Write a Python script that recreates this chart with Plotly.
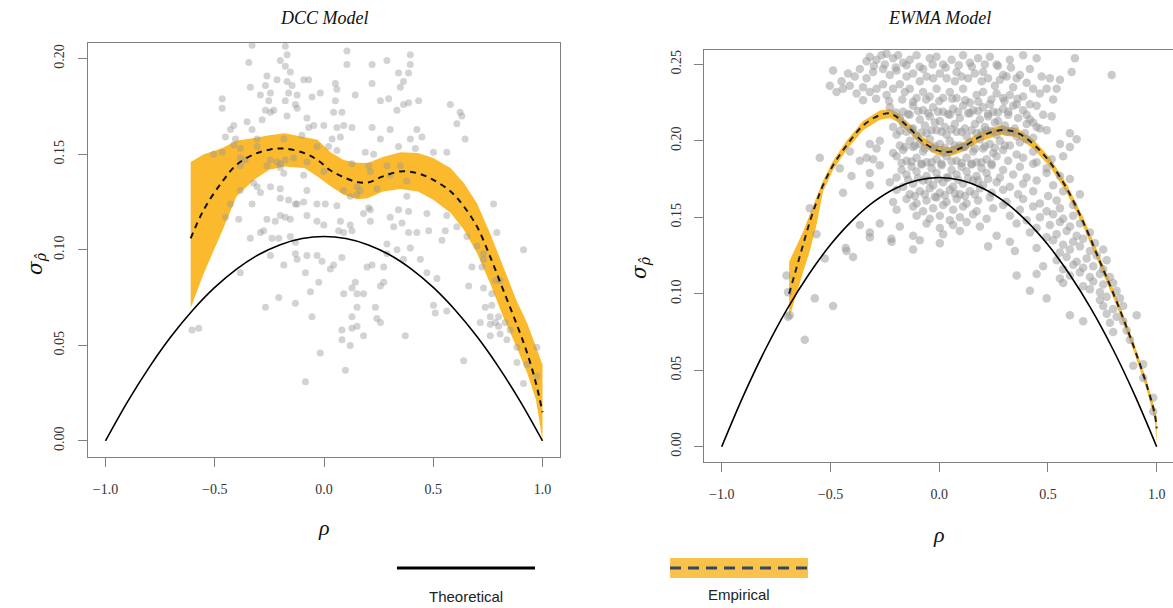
import plotly.graph_objects as go

W, H = 1173, 608

# ---------------- DATA ----------------
# DCC model: scatter (rho, sigma)
dcc_points = [
    (-0.329, 0.207), (-0.177, 0.2065), (-0.169, 0.202), (0.105, 0.204), (0.395, 0.202), (-0.344, 0.198),
    (-0.200, 0.199), (-0.177, 0.196), (0.105, 0.197), (0.220, 0.197), (0.288, 0.199), (0.395, 0.197),
    (-0.154, 0.193), (-0.261, 0.191), (-0.215, 0.189), (-0.093, 0.189), (-0.070, 0.189), (0.341, 0.1925),
    (0.387, 0.1925), (0.364, 0.188), (-0.337, 0.185), (-0.268, 0.186), (-0.169, 0.188), (-0.146, 0.186),
    (0.052, 0.187), (0.059, 0.184), (0.220, 0.187), (0.349, 0.185), (-0.291, 0.181), (-0.245, 0.182),
    (-0.162, 0.182), (-0.123, 0.181), (-0.055, 0.180), (-0.017, 0.182), (0.143, 0.181), (-0.466, 0.179),
    (-0.466, 0.174), (-0.253, 0.178), (-0.177, 0.178), (-0.131, 0.176), (-0.123, 0.174), (-0.268, 0.173),
    (-0.245, 0.172), (-0.230, 0.173), (0.044, 0.172), (0.082, 0.172), (0.052, 0.178), (0.258, 0.178),
    (0.296, 0.179), (0.334, 0.173), (0.364, 0.176), (0.387, 0.177), (0.433, 0.178), (0.578, 0.176),
    (0.623, 0.172), (0.631, 0.170), (-0.352, 0.167), (-0.283, 0.168), (-0.413, 0.165), (-0.428, 0.163),
    (-0.329, 0.163), (-0.169, 0.170), (-0.078, 0.169), (-0.070, 0.164), (-0.047, 0.165), (-0.001, 0.165),
    (0.059, 0.164), (0.090, 0.165), (0.128, 0.164), (0.220, 0.164), (0.303, 0.163), (0.425, 0.163),
    (0.608, 0.166), (-0.451, 0.159), (-0.405, 0.158), (-0.306, 0.158), (-0.184, 0.158), (-0.101, 0.160),
    (0.037, 0.158), (0.075, 0.159), (0.258, 0.158), (0.395, 0.158), (0.448, 0.159), (0.646, 0.158),
    (-0.413, 0.155), (-0.383, 0.153), (-0.306, 0.154), (-0.032, 0.154), (0.021, 0.154), (0.059, 0.152),
    (0.189, 0.151), (0.227, 0.150), (0.341, 0.154), (0.418, 0.153), (0.501, 0.151), (0.562, 0.151),
    (-0.505, 0.150), (-0.466, 0.151), (-0.383, 0.148), (-0.360, 0.147), (-0.245, 0.147), (-0.215, 0.146),
    (-0.200, 0.145), (-0.177, 0.147), (-0.139, 0.148), (-0.078, 0.146), (0.128, 0.145), (0.204, 0.144),
    (0.288, 0.144), (0.349, 0.144), (-0.383, 0.144), (-0.261, 0.144), (-0.200, 0.143), (-0.184, 0.140),
    (-0.093, 0.139), (-0.001, 0.141), (0.212, 0.141), (0.303, 0.139), (0.379, 0.136), (-0.322, 0.135),
    (-0.306, 0.133), (-0.245, 0.133), (-0.200, 0.132), (0.151, 0.133), (0.166, 0.131), (0.242, 0.132),
    (0.379, 0.128), (-0.383, 0.131), (-0.291, 0.130), (-0.200, 0.127), (-0.162, 0.126), (-0.123, 0.124),
    (-0.093, 0.125), (-0.078, 0.131), (-0.032, 0.124), (0.006, 0.124), (0.090, 0.131), (0.120, 0.128),
    (0.151, 0.129), (-0.428, 0.124), (-0.329, 0.124), (-0.131, 0.124), (0.059, 0.123), (0.204, 0.122),
    (0.212, 0.121), (0.341, 0.121), (0.387, 0.120), (0.471, 0.119), (0.562, 0.118), (0.776, 0.124),
    (-0.451, 0.117), (-0.390, 0.116), (-0.261, 0.116), (-0.223, 0.115), (-0.200, 0.118), (-0.177, 0.117),
    (-0.154, 0.116), (-0.078, 0.118), (-0.032, 0.115), (-0.001, 0.113), (0.075, 0.115), (0.120, 0.113),
    (0.181, 0.119), (0.212, 0.115), (0.303, 0.117), (0.319, 0.112), (0.357, 0.114), (0.387, 0.109),
    (0.425, 0.109), (0.479, 0.110), (0.555, 0.110), (0.608, 0.112), (-0.337, 0.106), (-0.291, 0.109),
    (-0.276, 0.110), (-0.238, 0.106), (-0.207, 0.106), (-0.154, 0.107), (-0.131, 0.104), (0.067, 0.110),
    (0.090, 0.109), (0.128, 0.110), (0.288, 0.103), (0.334, 0.100), (0.395, 0.101), (0.540, 0.105),
    (0.654, 0.107), (0.791, 0.109), (0.700, 0.102), (0.730, 0.098), (0.913, 0.100), (-0.383, 0.088),
    (-0.245, 0.097), (-0.184, 0.092), (-0.131, 0.098), (-0.123, 0.095), (-0.078, 0.097), (-0.032, 0.097),
    (-0.009, 0.094), (0.029, 0.090), (0.044, 0.092), (0.082, 0.096), (0.197, 0.091), (0.220, 0.092),
    (0.273, 0.091), (0.288, 0.098), (0.364, 0.095), (0.441, 0.095), (0.471, 0.088), (0.517, 0.085),
    (0.677, 0.091), (0.723, 0.091), (0.730, 0.095), (0.784, 0.084), (-0.085, 0.088), (-0.024, 0.083),
    (-0.062, 0.078), (0.090, 0.077), (0.143, 0.083), (0.128, 0.080), (0.151, 0.077), (0.181, 0.077),
    (0.258, 0.081), (0.273, 0.083), (0.662, 0.081), (0.730, 0.080), (0.768, 0.077), (0.806, 0.084),
    (-0.207, 0.075), (-0.131, 0.072), (-0.268, 0.070), (-0.055, 0.065), (0.128, 0.065), (0.151, 0.070),
    (0.235, 0.070), (0.242, 0.064), (0.258, 0.062), (0.501, 0.071), (0.509, 0.067), (0.562, 0.068),
    (0.738, 0.070), (0.768, 0.071), (0.761, 0.065), (0.799, 0.065), (0.784, 0.062), (0.715, 0.062),
    (0.761, 0.061), (0.829, 0.062), (0.799, 0.060), (0.852, 0.058), (0.082, 0.058), (0.128, 0.059),
    (0.151, 0.060), (0.181, 0.055), (0.082, 0.053), (0.120, 0.050), (0.372, 0.055), (0.761, 0.055),
    (0.806, 0.056), (0.837, 0.053), (0.883, 0.049), (0.974, 0.049), (-0.604, 0.058), (-0.573, 0.059),
    (-0.017, 0.046), (0.639, 0.042), (0.883, 0.041), (0.928, 0.040), (0.098, 0.037), (-0.085, 0.031),
    (0.913, 0.030), (0.974, 0.034),
]

# DCC empirical smoother and its band
dcc_fit_rho = [-0.61, -0.55, -0.47, -0.40, -0.32, -0.25, -0.18, -0.09, -0.03, 0.03, 0.09, 0.15, 0.20,
               0.27, 0.35, 0.43, 0.50, 0.58, 0.64, 0.70, 0.76, 0.82, 0.88, 0.93, 0.97, 1.00]
dcc_fit_mid = [0.106, 0.121, 0.135, 0.1445, 0.150, 0.1524, 0.153, 0.1506, 0.147, 0.1415, 0.138, 0.1355,
               0.1352, 0.1384, 0.141, 0.140, 0.1366, 0.1305, 0.1227, 0.1122, 0.0965, 0.079, 0.0616,
               0.0459, 0.0302, 0.015]
dcc_fit_upper = [0.146, 0.150, 0.153, 0.157, 0.1585, 0.160, 0.161, 0.159, 0.1576, 0.151, 0.147, 0.1455,
                 0.1454, 0.1485, 0.151, 0.1506, 0.148, 0.1427, 0.135, 0.1244, 0.1087, 0.0913, 0.0738,
                 0.0616, 0.0494, 0.040]
dcc_fit_lower = [0.0695, 0.0878, 0.1087, 0.128, 0.1366, 0.1419, 0.1436, 0.1428, 0.1384, 0.1332, 0.1288,
                 0.1265, 0.127, 0.1305, 0.1318, 0.1305, 0.1262, 0.1192, 0.1105, 0.0983, 0.0825, 0.065,
                 0.0494, 0.0354, 0.0215, 0.000]

# Theoretical curves (read at rho = -1.0 ... 1.0 step 0.1)
theo_rho = [-1.0, -0.9, -0.8, -0.7, -0.6, -0.5, -0.4, -0.3, -0.2, -0.1, 0.0,
            0.1, 0.2, 0.3, 0.4, 0.5, 0.6, 0.7, 0.8, 0.9, 1.0]
dcc_theo = [0.0, 0.0203, 0.0385, 0.0546, 0.0685, 0.0803, 0.0899, 0.0974, 0.1027, 0.1059, 0.107,
            0.1059, 0.1027, 0.0974, 0.0899, 0.0803, 0.0685, 0.0546, 0.0385, 0.0203, 0.0]
ewma_theo = [0.0, 0.0334, 0.0634, 0.0898, 0.1126, 0.132, 0.1478, 0.1602, 0.169, 0.1742, 0.176,
             0.1742, 0.169, 0.1602, 0.1478, 0.132, 0.1126, 0.0898, 0.0634, 0.0334, 0.0]

# EWMA model: scatter (rho, sigma)
ewma_points = [
    (-0.488, 0.246), (-0.449, 0.239), (-0.419, 0.244), (-0.388, 0.242), (-0.365, 0.247), (-0.334, 0.252),
    (-0.319, 0.255), (-0.288, 0.253), (-0.265, 0.256), (-0.242, 0.257), (-0.212, 0.254), (-0.189, 0.256),
    (-0.166, 0.251), (-0.135, 0.253), (-0.104, 0.256), (-0.074, 0.247), (-0.043, 0.254), (-0.012, 0.255),
    (0.018, 0.250), (0.057, 0.253), (0.080, 0.245), (0.110, 0.256), (0.141, 0.251), (0.179, 0.254),
    (0.202, 0.245), (0.233, 0.255), (0.264, 0.250), (0.294, 0.243), (0.325, 0.253), (0.356, 0.241),
    (0.386, 0.256), (0.417, 0.247), (0.448, 0.254), (0.471, 0.242), (0.509, 0.241), (0.555, 0.240),
    (0.609, 0.245), (0.624, 0.254), (0.793, 0.243), (-0.334, 0.241), (-0.304, 0.245), (-0.258, 0.247),
    (-0.227, 0.243), (-0.196, 0.246), (-0.150, 0.242), (-0.120, 0.244), (-0.089, 0.239), (-0.058, 0.242),
    (-0.028, 0.241), (0.003, 0.244), (0.034, 0.241), (0.072, 0.239), (0.103, 0.242), (0.133, 0.241),
    (0.164, 0.244), (0.195, 0.239), (0.225, 0.241), (0.256, 0.236), (0.279, 0.240), (0.310, 0.242),
    (0.340, 0.235), (0.371, 0.243), (0.402, 0.238), (0.432, 0.234), (0.463, 0.231), (0.494, 0.234),
    (0.524, 0.227), (0.540, 0.234), (-0.503, 0.236), (-0.472, 0.232), (-0.442, 0.234), (-0.411, 0.236),
    (-0.380, 0.231), (-0.350, 0.235), (-0.319, 0.232), (-0.288, 0.234), (-0.258, 0.237), (-0.242, 0.230),
    (-0.212, 0.234), (-0.181, 0.237), (-0.158, 0.232), (-0.135, 0.234), (-0.104, 0.228), (-0.074, 0.232),
    (-0.043, 0.229), (-0.012, 0.234), (0.018, 0.228), (0.049, 0.232), (0.080, 0.228), (0.110, 0.234),
    (0.141, 0.225), (0.172, 0.230), (0.202, 0.232), (0.233, 0.224), (0.264, 0.231), (0.294, 0.228),
    (0.325, 0.230), (0.356, 0.224), (0.386, 0.229), (0.417, 0.224), (0.448, 0.223), (0.478, 0.217),
    (0.517, 0.216), (0.402, 0.217), (0.432, 0.212), (0.463, 0.208),
    (-0.227, 0.222), (-0.166, 0.219), (-0.120, 0.223), (-0.074, 0.220), (-0.028, 0.222), (0.018, 0.219),
    (0.064, 0.221), (0.110, 0.223), (0.156, 0.220), (0.202, 0.222), (0.248, 0.219), (0.294, 0.221),
    (0.340, 0.223), (0.386, 0.220),
    (-0.181, 0.215), (-0.135, 0.217), (-0.089, 0.214), (-0.043, 0.216), (0.003, 0.213), (0.049, 0.217),
    (0.095, 0.215), (0.141, 0.218), (0.187, 0.214), (0.225, 0.216), (0.271, 0.213), (0.317, 0.217),
    (0.363, 0.215), (0.417, 0.214),
    (-0.212, 0.209), (-0.166, 0.211), (-0.120, 0.208), (-0.066, 0.210), (-0.020, 0.212), (0.026, 0.209),
    (0.072, 0.211), (0.118, 0.208), (0.164, 0.211), (0.210, 0.209), (0.256, 0.212), (0.302, 0.210),
    (0.348, 0.208), (0.402, 0.211), (0.448, 0.209), (0.494, 0.207),
    (-0.196, 0.204), (-0.150, 0.206), (-0.104, 0.203), (-0.058, 0.205), (-0.012, 0.207), (0.034, 0.204),
    (0.080, 0.206), (0.126, 0.203), (0.172, 0.205), (0.218, 0.207), (0.264, 0.204), (0.310, 0.206),
    (0.356, 0.203), (0.394, 0.205), (0.432, 0.202), (0.601, 0.205), (0.632, 0.201),
    (-0.319, 0.198), (-0.273, 0.200), (-0.181, 0.197), (-0.135, 0.200), (-0.089, 0.198), (-0.043, 0.201),
    (0.003, 0.198), (0.049, 0.200), (0.095, 0.197), (0.141, 0.199), (0.187, 0.201), (0.233, 0.198),
    (0.279, 0.200), (0.325, 0.197), (0.371, 0.199), (0.402, 0.201), (0.555, 0.198), (0.601, 0.196),
    (-0.411, 0.193), (-0.288, 0.195), (-0.212, 0.192), (-0.166, 0.194), (-0.120, 0.196), (-0.074, 0.193),
    (-0.028, 0.195), (0.018, 0.192), (0.064, 0.194), (0.110, 0.196), (0.156, 0.193), (0.202, 0.195),
    (0.248, 0.192), (0.294, 0.194), (0.356, 0.191), (0.432, 0.193),
    (-0.549, 0.189), (-0.365, 0.187), (-0.334, 0.189), (-0.304, 0.188), (-0.196, 0.190), (-0.150, 0.187),
    (-0.104, 0.189), (-0.058, 0.186), (-0.012, 0.188), (0.034, 0.190), (0.080, 0.187), (0.126, 0.189),
    (0.172, 0.186), (0.218, 0.188), (0.264, 0.190), (0.317, 0.187), (0.386, 0.189), (0.448, 0.186),
    (0.517, 0.188), (0.570, 0.190),
    (-0.457, 0.182), (-0.273, 0.184), (-0.173, 0.181), (-0.127, 0.183), (-0.081, 0.185), (-0.035, 0.182),
    (0.011, 0.184), (0.057, 0.181), (0.103, 0.183), (0.149, 0.185), (0.195, 0.182), (0.241, 0.184),
    (0.294, 0.181), (0.371, 0.183), (0.432, 0.185), (0.494, 0.182),
    (-0.403, 0.177), (-0.319, 0.179), (-0.196, 0.176), (-0.150, 0.178), (-0.104, 0.180), (-0.058, 0.177),
    (-0.012, 0.179), (0.034, 0.176), (0.080, 0.178), (0.126, 0.180), (0.172, 0.177), (0.218, 0.179),
    (0.279, 0.176), (0.340, 0.178), (0.402, 0.176), (0.494, 0.179), (0.555, 0.177), (0.601, 0.175),
    (-0.319, 0.171), (-0.227, 0.173), (-0.166, 0.170), (-0.120, 0.172), (-0.074, 0.174), (-0.028, 0.171),
    (0.018, 0.173), (0.064, 0.170), (0.110, 0.172), (0.156, 0.174), (0.202, 0.171), (0.264, 0.173),
    (0.325, 0.170), (0.386, 0.172), (0.448, 0.174), (0.524, 0.171),
    (-0.442, 0.166), (-0.196, 0.168), (-0.135, 0.165), (-0.089, 0.167), (-0.043, 0.169), (0.003, 0.166),
    (0.049, 0.168), (0.095, 0.165), (0.141, 0.167), (0.187, 0.169), (0.241, 0.166), (0.294, 0.168),
    (0.363, 0.165), (0.432, 0.167), (0.501, 0.164), (0.570, 0.167), (0.647, 0.165),
    (-0.212, 0.160), (-0.150, 0.162), (-0.104, 0.159), (-0.058, 0.161), (-0.012, 0.163), (0.034, 0.160),
    (0.080, 0.162), (0.126, 0.159), (0.179, 0.161), (0.233, 0.163), (0.310, 0.160), (0.386, 0.162),
    (0.463, 0.159), (0.540, 0.161), (0.616, 0.158),
    (-0.595, 0.156), (-0.196, 0.155), (-0.120, 0.157), (-0.074, 0.154), (-0.028, 0.156), (0.018, 0.158),
    (0.064, 0.155), (0.110, 0.157), (0.172, 0.154), (0.248, 0.156), (0.294, 0.158), (0.371, 0.155),
    (0.432, 0.157), (0.494, 0.154), (0.555, 0.156),
    (-0.104, 0.151), (-0.043, 0.149), (0.003, 0.151), (0.049, 0.148), (0.095, 0.150), (0.156, 0.152),
    (0.218, 0.149), (0.325, 0.151), (0.402, 0.148), (0.463, 0.150), (0.524, 0.152), (0.570, 0.149),
    (0.616, 0.151),
    (-0.365, 0.145), (-0.273, 0.146), (-0.181, 0.144), (-0.058, 0.146), (0.003, 0.143), (0.064, 0.145),
    (0.126, 0.147), (0.187, 0.144), (0.356, 0.146), (0.448, 0.143), (0.509, 0.145), (0.555, 0.147),
    (0.601, 0.144), (0.647, 0.146),
    (-0.564, 0.139), (-0.319, 0.140), (-0.120, 0.138), (0.018, 0.139), (0.095, 0.141), (0.264, 0.138),
    (0.417, 0.140), (0.494, 0.137), (0.540, 0.139), (0.586, 0.141), (0.632, 0.138), (0.693, 0.140),
    (-0.219, 0.134), (-0.089, 0.135), (0.003, 0.133), (0.225, 0.131), (0.325, 0.134), (0.524, 0.135),
    (0.570, 0.132), (0.616, 0.134), (0.662, 0.136), (0.716, 0.133),
    (-0.426, 0.128), (-0.120, 0.129), (0.348, 0.128), (0.448, 0.130), (0.555, 0.127), (0.601, 0.129),
    (0.647, 0.131), (0.693, 0.128), (0.754, 0.129),
    (-0.526, 0.123), (-0.396, 0.124), (0.540, 0.122), (0.586, 0.124), (0.632, 0.121), (0.678, 0.123),
    (0.724, 0.125), (0.770, 0.122),
    (0.478, 0.118), (0.570, 0.116), (0.616, 0.119), (0.662, 0.117), (0.708, 0.118), (0.754, 0.116),
    (0.356, 0.112), (0.448, 0.113), (0.555, 0.110), (0.601, 0.112), (0.647, 0.114), (0.693, 0.111),
    (0.739, 0.113), (0.785, 0.111),
    (0.570, 0.107), (0.662, 0.105), (0.708, 0.108), (0.754, 0.106), (0.800, 0.107),
    (0.417, 0.102), (0.693, 0.103), (0.739, 0.101), (0.816, 0.102),
    (-0.572, 0.097), (0.494, 0.097), (0.739, 0.096), (0.770, 0.098), (0.831, 0.097),
    (-0.488, 0.092), (0.754, 0.092), (0.800, 0.090), (0.846, 0.092),
    (-0.687, 0.086), (0.601, 0.086), (0.770, 0.087), (0.816, 0.085), (0.908, 0.086),
    (0.662, 0.082), (0.785, 0.081), (0.846, 0.082),
    (0.800, 0.075), (0.862, 0.076), (-0.618, 0.070), (0.877, 0.070),
    (0.892, 0.053), (0.938, 0.054), (0.938, 0.045), (0.984, 0.032), (0.984, 0.023),
    (-0.702, 0.112), (-0.695, 0.101), (-0.695, 0.085), (-0.430, 0.130), (-0.319, 0.137), (-0.220, 0.136),
    # dense core, second pass
    (-0.200, 0.2185), (-0.143, 0.2175), (-0.097, 0.2195), (-0.050, 0.2180), (-0.005, 0.2190),
    (0.041, 0.2175), (0.087, 0.2190), (0.133, 0.2180), (0.179, 0.2195), (0.225, 0.2175), (0.270, 0.2185),
    (0.318, 0.2190),
    (-0.180, 0.2065), (-0.127, 0.2075), (-0.081, 0.2055), (-0.035, 0.2070), (0.011, 0.2060),
    (0.057, 0.2075), (0.103, 0.2060), (0.149, 0.2070), (0.195, 0.2055), (0.241, 0.2065), (0.287, 0.2075),
    (0.333, 0.2060),
    (-0.158, 0.1960), (-0.112, 0.1970), (-0.066, 0.1950), (-0.020, 0.1965), (0.026, 0.1955),
    (0.072, 0.1970), (0.118, 0.1960), (0.164, 0.1950), (0.210, 0.1965), (0.256, 0.1955), (0.302, 0.1970),
    (-0.173, 0.1855), (-0.127, 0.1865), (-0.081, 0.1845), (-0.035, 0.1860), (0.011, 0.1850),
    (0.057, 0.1865), (0.103, 0.1855), (0.149, 0.1845), (0.195, 0.1860), (0.241, 0.1850),
    (-0.143, 0.1745), (-0.097, 0.1755), (-0.050, 0.1740), (-0.005, 0.1750), (0.041, 0.1760),
    (0.087, 0.1745), (0.133, 0.1755), (0.179, 0.1740), (0.225, 0.1750),
    (-0.112, 0.1640), (-0.066, 0.1650), (-0.020, 0.1635), (0.026, 0.1645), (0.072, 0.1655),
    (0.118, 0.1640), (0.164, 0.1650),
    (-0.300, 0.2490), (-0.250, 0.2500), (-0.200, 0.2480), (-0.150, 0.2495), (-0.090, 0.2485),
    (-0.030, 0.2500), (0.030, 0.2480), (0.090, 0.2495), (0.150, 0.2485), (0.210, 0.2500), (0.270, 0.2490),
    (0.330, 0.2480),
    (-0.350, 0.2265), (-0.290, 0.2275), (-0.230, 0.2260), (-0.170, 0.2270), (-0.120, 0.2255),
    (-0.060, 0.2270), (0.000, 0.2260), (0.060, 0.2275), (0.120, 0.2265), (0.180, 0.2255), (0.240, 0.2270),
    (0.300, 0.2260), (0.360, 0.2275),
]

# EWMA empirical smoother and its band
ewma_fit_rho = [-0.69, -0.656, -0.626, -0.595, -0.564, -0.534, -0.488, -0.426, -0.35, -0.273, -0.227,
                -0.196, -0.135, -0.074, -0.012, 0.049, 0.11, 0.187, 0.279, 0.356, 0.432, 0.509, 0.586,
                0.662, 0.739, 0.816, 0.892, 0.954, 0.992, 1.0]
ewma_fit_mid = [0.100, 0.117, 0.132, 0.147, 0.160, 0.171, 0.184, 0.197, 0.210, 0.2168, 0.2179, 0.2157,
                0.208, 0.1993, 0.1939, 0.1928, 0.196, 0.2026, 0.207, 0.2054, 0.198, 0.186, 0.169, 0.147,
                0.121, 0.0948, 0.0664, 0.0403, 0.0207, 0.012]
ewma_fit_upper = [0.121, 0.131, 0.1405, 0.152, 0.163, 0.174, 0.187, 0.200, 0.213, 0.2198, 0.2209, 0.2187,
                  0.211, 0.2023, 0.1969, 0.1958, 0.199, 0.2056, 0.210, 0.2084, 0.201, 0.189, 0.172,
                  0.150, 0.124, 0.0978, 0.0694, 0.0433, 0.0247, 0.018]
ewma_fit_lower = [0.084, 0.100, 0.114, 0.128, 0.145, 0.167, 0.181, 0.194, 0.207, 0.2138, 0.2149, 0.2127,
                  0.205, 0.1963, 0.1909, 0.1898, 0.193, 0.1996, 0.204, 0.2024, 0.195, 0.183, 0.166,
                  0.144, 0.118, 0.0918, 0.0634, 0.0373, 0.0167, 0.002]

titles = ["DCC Model", "EWMA Model"]
x_ticks = [-1.0, -0.5, 0.0, 0.5, 1.0]
dcc_y_ticks = [0.00, 0.05, 0.10, 0.15, 0.20]
ewma_y_ticks = [0.00, 0.05, 0.10, 0.15, 0.20, 0.25]
legend_labels = ["Theoretical", "Empirical"]

# ---------------- STYLE ----------------
BAND = "#FBBA2E"
AXC = "#808080"
SERIF = "Liberation Serif, DejaVu Serif, serif"
SANS = "Liberation Sans, Arial, sans-serif"

fig = go.Figure()


def add_panel(points, fit_rho, fit_mid, fit_up, fit_lo, theo, xa, ya, dash_color, msize, pcolor):
    # band
    fig.add_trace(go.Scatter(x=list(fit_rho) + list(fit_rho)[::-1],
                             y=list(fit_up) + list(fit_lo)[::-1],
                             fill="toself", fillcolor=BAND, line=dict(width=0, color=BAND),
                             mode="lines", hoverinfo="skip", xaxis=xa, yaxis=ya, showlegend=False))
    # points
    fig.add_trace(go.Scatter(x=[p[0] for p in points], y=[p[1] for p in points], mode="markers",
                             marker=dict(color=pcolor, size=msize, line=dict(width=0)),
                             xaxis=xa, yaxis=ya, showlegend=False))
    # theoretical
    fig.add_trace(go.Scatter(x=theo_rho, y=theo, mode="lines",
                             line=dict(color="black", width=1.6, shape="spline"),
                             xaxis=xa, yaxis=ya, showlegend=False))
    # empirical
    fig.add_trace(go.Scatter(x=fit_rho, y=fit_mid, mode="lines",
                             line=dict(color=dash_color, width=2, dash="6px,5px", shape="spline"),
                             xaxis=xa, yaxis=ya, showlegend=False))


add_panel(dcc_points, dcc_fit_rho, dcc_fit_mid, dcc_fit_upper, dcc_fit_lower, dcc_theo, "x", "y",
          "#111111", 7, "rgba(150,150,150,0.42)")
add_panel(ewma_points, ewma_fit_rho, ewma_fit_mid, ewma_fit_upper, ewma_fit_lower, ewma_theo, "x2", "y2",
          "#1b2333", 8.5, "rgba(150,150,150,0.5)")


def px_x(p):
    return p / W


def px_y(p):
    return 1 - p / H


axis_common = dict(showgrid=False, zeroline=False, showline=True, linecolor=AXC, linewidth=1,
                   ticks="outside", ticklen=9, tickcolor=AXC, tickwidth=1,
                   tickfont=dict(family=SERIF, size=14, color="#333333"))

fig.update_layout(
    width=W, height=H, margin=dict(l=0, r=0, t=0, b=0),
    paper_bgcolor="white", plot_bgcolor="white", showlegend=False,
    xaxis=dict(domain=[px_x(88), px_x(560)], range=[-1.08, 1.08], anchor="y", mirror=True,
               tickvals=x_ticks, tickformat=".1f", ticklabelstandoff=10, **axis_common),
    yaxis=dict(domain=[px_y(457), px_y(43)], range=[-0.0084, 0.2082], anchor="x", mirror=True,
               tickvals=dcc_y_ticks, tickformat=".2f", tickangle=-90, ticklabelstandoff=8, **axis_common),
    xaxis2=dict(domain=[px_x(704.3), 1.0], range=[-1.08, (1173 - 939.3) / 217.4], anchor="y2",
                mirror=True, tickvals=x_ticks, tickformat=".1f", ticklabelstandoff=10, **axis_common),
    yaxis2=dict(domain=[px_y(461.7), px_y(50)], range=[-0.0098, 0.2594], anchor="x2", mirror=False,
                tickvals=ewma_y_ticks, tickformat=".2f", tickangle=-90, ticklabelstandoff=8, **axis_common),
)


def text_ann(text, cx, cy, font, angle=0):
    return dict(text=text, x=px_x(cx), y=px_y(cy), xref="paper", yref="paper", xanchor="center",
                yanchor="middle", showarrow=False, textangle=angle, font=font)


ann = []
ann.append(text_ann("<i>" + titles[0] + "</i>", 324, 18, dict(family=SERIF, size=18, color="#111")))
ann.append(text_ann("<i>" + titles[1] + "</i>", 939, 18, dict(family=SERIF, size=18, color="#111")))
for cx, cy in [(324, 527), (939, 534)]:
    ann.append(text_ann("<i>ρ</i>", cx, cy, dict(family=SERIF, size=22, color="#111")))
for cx, cy in [(36, 264), (640, 268)]:
    ann.append(text_ann("<i>σ</i><sub><i>ρ̂</i></sub>", cx, cy,
                        dict(family="DejaVu Serif, serif", size=20, color="#111"), angle=-90))
ann.append(text_ann(legend_labels[0], 466, 596, dict(family=SANS, size=15, color="#222")))
ann.append(text_ann(legend_labels[1], 739, 594, dict(family=SANS, size=15, color="#222")))

shapes = [
    dict(type="line", xref="paper", yref="paper", x0=px_x(397), x1=px_x(535), y0=px_y(568), y1=px_y(568),
         line=dict(color="black", width=3)),
    dict(type="rect", xref="paper", yref="paper", x0=px_x(670), x1=px_x(808), y0=px_y(578), y1=px_y(558),
         fillcolor="#F9C24A", line=dict(width=0)),
    dict(type="line", xref="paper", yref="paper", x0=px_x(670), x1=px_x(808), y0=px_y(568), y1=px_y(568),
         line=dict(color="#35475e", width=3, dash="11px,7px")),
]

fig.update_layout(annotations=ann, shapes=shapes)
fig.write_html("out.html")
